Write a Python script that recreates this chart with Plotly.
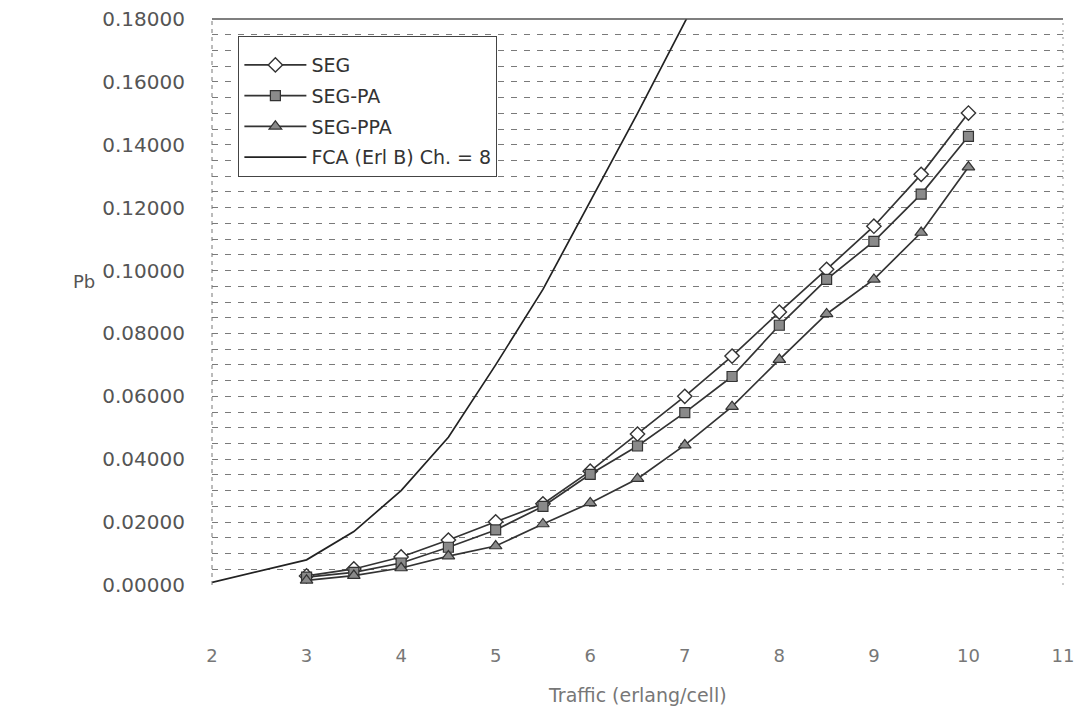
import plotly.graph_objects as go

# ---- data ----
traffic = [3, 3.5, 4, 4.5, 5, 5.5, 6, 6.5, 7, 7.5, 8, 8.5, 9, 9.5, 10]
seg = [0.0029, 0.0051, 0.0089, 0.0143, 0.0201, 0.0258, 0.0362, 0.0480,
       0.0600, 0.0728, 0.0868, 0.1004, 0.1141, 0.1306, 0.1501]
seg_pa = [0.0025, 0.0040, 0.0070, 0.0120, 0.0175, 0.0250, 0.0352, 0.0442,
          0.0548, 0.0663, 0.0826, 0.0972, 0.1093, 0.1243, 0.1427]
seg_ppa = [0.0015, 0.0030, 0.0054, 0.0092, 0.0124, 0.0194, 0.0261, 0.0338,
           0.0445, 0.0567, 0.0717, 0.0862, 0.0972, 0.1121, 0.1329]
fca_traffic = [2, 3, 3.5, 4, 4.5, 5, 5.5, 6, 6.5, 7, 7.5]
fca = [0.0008, 0.0080, 0.0170, 0.0300, 0.0470, 0.0700, 0.0940, 0.1220,
       0.1500, 0.1790, 0.2080]
x_ticks = [2, 3, 4, 5, 6, 7, 8, 9, 10, 11]
y_ticks = [0.00, 0.02, 0.04, 0.06, 0.08, 0.10, 0.12, 0.14, 0.16, 0.18]

LINE = "#333333"
FILL = "#8a8a8a"
FONT = "DejaVu Sans"
GRID = "#7a7a7a"

fig = go.Figure()
fig.add_trace(go.Scatter(
    x=traffic, y=seg, name="SEG", mode="lines+markers", legendgroup="a",
    line=dict(color=LINE, width=1.7),
    marker=dict(symbol="diamond", size=11, color="white",
                line=dict(color=LINE, width=1.4))))
fig.add_trace(go.Scatter(
    x=traffic, y=seg_pa, name="SEG-PA", mode="lines+markers", legendgroup="b",
    line=dict(color=LINE, width=1.7),
    marker=dict(symbol="square", size=10, color=FILL,
                line=dict(color=LINE, width=1.2))))
fig.add_trace(go.Scatter(
    x=traffic, y=seg_ppa, name="SEG-PPA", mode="lines+markers", legendgroup="c",
    line=dict(color=LINE, width=1.7),
    marker=dict(symbol="triangle-up", size=11, color=FILL,
                line=dict(color=LINE, width=1.2))))
fig.add_trace(go.Scatter(
    x=fca_traffic, y=fca, name="FCA (Erl B) Ch. = 8", mode="lines",
    legendgroup="d", line=dict(color="#222222", width=1.7)))

fig.update_layout(
    width=1079, height=713,
    margin=dict(l=212, r=16, t=19, b=128, autoexpand=False),
    paper_bgcolor="white", plot_bgcolor="white",
    font=dict(family=FONT, color="#555555", size=17),
    showlegend=True,
    legend=dict(
        x=0.031, y=0.970, xanchor="left", yanchor="top",
        bgcolor="white", bordercolor="#444444", borderwidth=1,
        font=dict(family=FONT, size=19, color="#333333"),
        title=dict(text=" ", font=dict(size=7)),
        tracegroupgap=3, itemwidth=62,
    ),
    xaxis=dict(
        range=[2, 11], tickmode="array", tickvals=x_ticks,
        ticktext=[str(v) for v in x_ticks],
        showgrid=False, zeroline=False, showline=False,
        ticks="", ticklabelstandoff=58,
        tickfont=dict(family=FONT, size=18, color="#777777"),
    ),
    yaxis=dict(
        range=[0, 0.18], tickmode="array", tickvals=y_ticks,
        tickformat=".5f",
        showgrid=True, gridcolor=GRID, gridwidth=1, griddash="6px,7px",
        minor=dict(dtick=0.005, tick0=0, showgrid=True, gridcolor=GRID,
                   gridwidth=1, griddash="6px,7px"),
        zeroline=False, showline=False, ticks="", ticklabelstandoff=26,
        tickfont=dict(family=FONT, size=20, color="#555555"),
    ),
    shapes=[
        dict(type="line", xref="paper", yref="paper", x0=0, x1=1, y0=1, y1=1,
             line=dict(color="#555555", width=1.3)),
        dict(type="line", xref="paper", yref="paper", x0=0, x1=0, y0=0, y1=1,
             line=dict(color="#777777", width=1, dash="4px,4px")),
        dict(type="line", xref="paper", yref="paper", x0=1, x1=1, y0=0, y1=1,
             line=dict(color="#999999", width=1, dash="2px,5px")),
    ],
    annotations=[
        dict(text="Pb", xref="paper", yref="paper", x=-0.150, y=0.537,
             xanchor="center", yanchor="middle", showarrow=False,
             font=dict(family=FONT, size=18, color="#555555")),
        dict(text="Traffic (erlang/cell)", xref="paper", yref="paper",
             x=0.5, y=-0.194, xanchor="center", yanchor="middle",
             showarrow=False,
             font=dict(family=FONT, size=19, color="#777777")),
    ],
)

fig.write_html("out.html")
